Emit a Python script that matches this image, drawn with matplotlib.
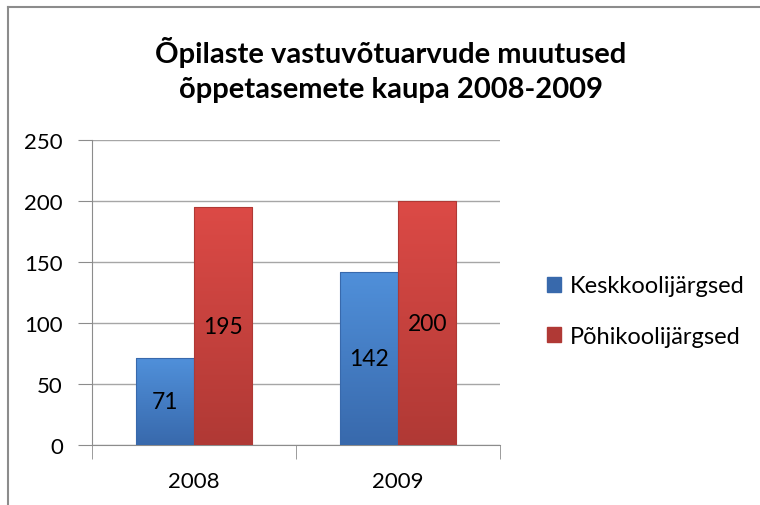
import numpy as np
import matplotlib
matplotlib.use("Agg")
import matplotlib.pyplot as plt
from matplotlib.lines import Line2D

plt.rcParams['font.family'] = ['Lato', 'DejaVu Sans']

years = ['2008', '2009']
series_names = ['Keskkoolijärgsed', 'Põhikoolijärgsed']
keskkool = [71, 142]
pohikool = [195, 200]
title = 'Õpilaste vastuvõtuarvude muutused\nõppetasemete kaupa 2008-2009'

# top / bottom colours for the gradient fill
blue_top, blue_bot = '#5090DA', '#3869AC'
red_top, red_bot = '#DC4A46', '#B03935'

fig = plt.figure(figsize=(7.6, 5.06), dpi=100)
ax = fig.add_axes([0.121, 0.1186, 0.537, 0.6027])

x = np.arange(len(years))
w = 0.2857


def gradient_bars(ax, xs, vals, top, bot, label):
    bars = ax.bar(xs, vals, w, color=bot, edgecolor='none', label=label, zorder=2)
    cmap = matplotlib.colors.LinearSegmentedColormap.from_list('g', [bot, top])
    grad = np.linspace(0, 1, 256).reshape(-1, 1)
    for b in bars:
        x0, y0 = b.get_x(), b.get_y()
        im = ax.imshow(grad, cmap=cmap, origin='lower', aspect='auto',
                       extent=[x0, x0 + b.get_width(), y0, y0 + b.get_height()],
                       zorder=3)
        im.set_clip_path(b)
        # thin darker outline
        ax.bar(x0 + b.get_width() / 2, b.get_height(), b.get_width(),
               color='none', edgecolor=bot, linewidth=0.8, zorder=4)
    return bars


b1 = gradient_bars(ax, x - w / 2, keskkool, blue_top, blue_bot, series_names[0])
b2 = gradient_bars(ax, x + w / 2, pohikool, red_top, red_bot, series_names[1])

for bars, vals in ((b1, keskkool), (b2, pohikool)):
    for b, v in zip(bars, vals):
        ax.text(b.get_x() + b.get_width() / 2, v / 2, str(v), ha='center',
                va='center', fontsize=16.5, color='black', zorder=5)

ax.set_xlim(-0.5, 1.5)
ax.set_ylim(0, 250)
ax.set_yticks(range(0, 251, 50))
ax.set_xticks(x)
ax.set_xticklabels(years)
ax.set_xticks([-0.5, 0.5, 1.5], minor=True)
ax.tick_params(axis='x', which='major', length=0, labelsize=16, pad=19)
ax.tick_params(axis='x', which='minor', length=10, color='#8C8C8C', direction='out')
ax.tick_params(axis='y', length=10, color='#8C8C8C', labelsize=16, pad=11)
ax.grid(axis='y', color='#A6A6A6', linewidth=1, zorder=0)
ax.set_axisbelow(True)
for s in ('top', 'right'):
    ax.spines[s].set_visible(False)
for s in ('left', 'bottom'):
    ax.spines[s].set_color('#8C8C8C')

leg = fig.legend(handles=[b1, b2], labels=series_names, loc='center left',
                 bbox_to_anchor=(0.692, 0.383), frameon=False, fontsize=17,
                 handlelength=0.6, handleheight=0.6, handletextpad=0.35,
                 labelspacing=1.25)
leg.legend_handles[0].set_color(blue_bot)
leg.legend_handles[1].set_color(red_bot)

fig.text(0.514, 0.862, title, ha='center', va='center', fontsize=21,
         fontweight='bold', linespacing=1.45)

# chart frame (left and top edges visible in the crop)
fig.add_artist(Line2D([0.0105, 0.0105], [0.0, 0.984], color='#8C8C8C', linewidth=1.5))
fig.add_artist(Line2D([0.0105, 1.0], [0.984, 0.984], color='#8C8C8C', linewidth=1.5))

fig.savefig('out.png', dpi=100)
